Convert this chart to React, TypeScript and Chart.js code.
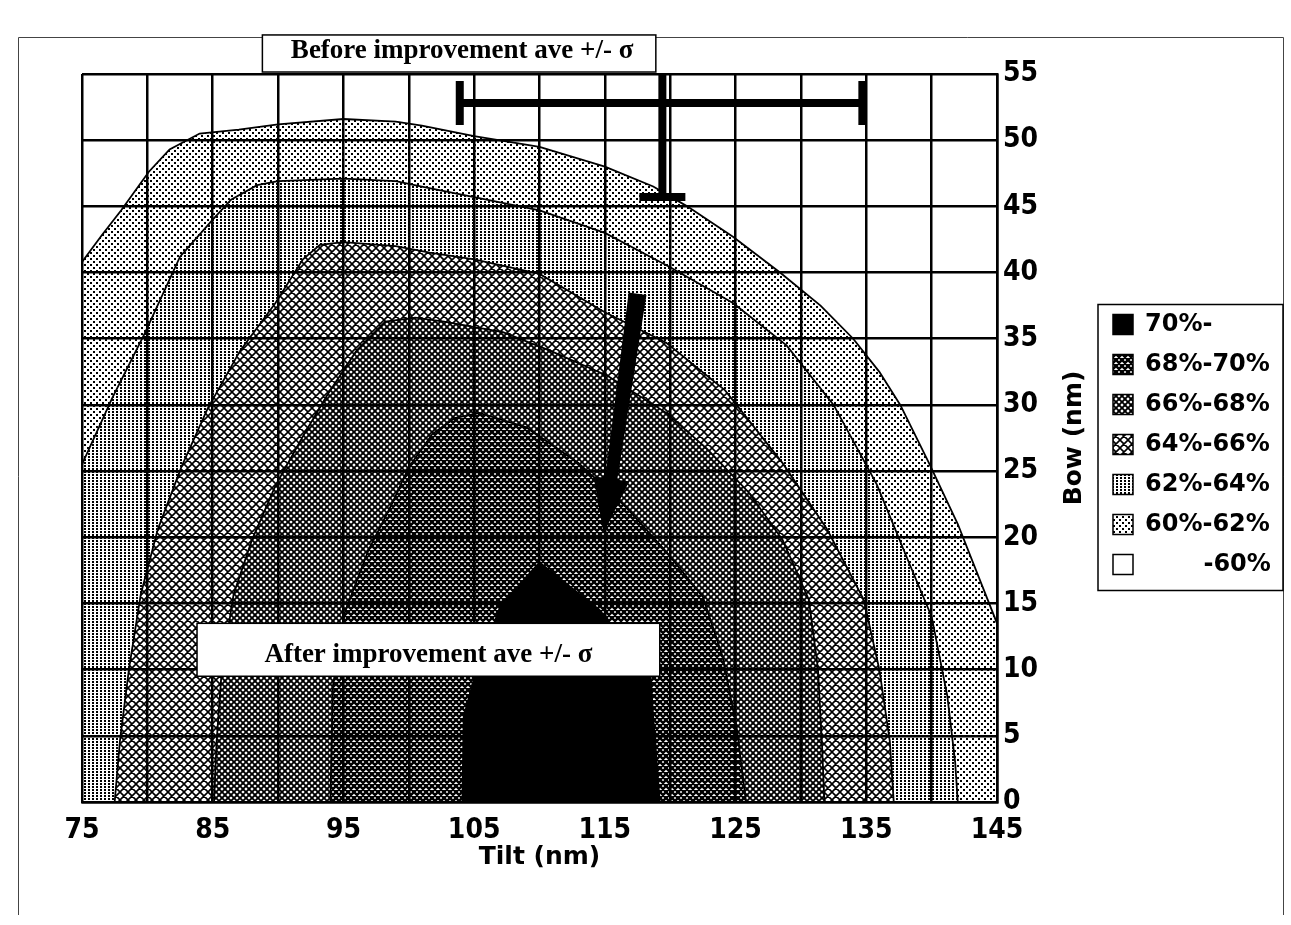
import React, { useEffect, useRef } from 'react';
import { Chart, registerables } from 'chart.js';

Chart.register(...registerables);

// ---------- data ----------
const LEVEL_LABELS = ['70%-', '68%-70%', '66%-68%', '64%-66%', '62%-64%', '60%-62%', '\u2007\u2007\u2007 -60%'];

const X_TICK_LABELS = [75, 85, 95, 105, 115, 125, 135, 145];
const Y_TICK_VALUES = [0, 5, 10, 15, 20, 25, 30, 35, 40, 45, 50, 55];

// contour boundaries (Tilt, Bow)
const TILT_70 = [104.1, 104.2, 104.9, 107, 110, 114.6, 118.5, 118.7, 119.2];
const BOW_70 = [0, 6.4, 9, 14.8, 18.1, 14.5, 9.5, 6.4, 0];

const TILT_68 = [94, 94.1, 94.2, 95.1, 96.9, 98.7, 100, 101.8, 103.5, 105.4, 109, 113, 116.6, 119.7, 122.5, 124, 125.1, 125.8];
const BOW_68 = [0, 4.5, 8.8, 14.3, 19, 22.5, 25.3, 27.8, 29, 29.4, 28.3, 25.6, 22.3, 18.9, 15.5, 11, 5.5, 0];

const TILT_66 = [85.1, 85.3, 85.7, 86.6, 88, 89.8, 92, 93.8, 96, 98.2, 100.5, 102.7, 107.2, 110.8, 115.2, 119.7, 122.8, 126, 128.6, 130.6, 131.3, 131.6, 131.8];
const BOW_66 = [0, 4.6, 10.1, 15.7, 19.8, 23.9, 27.8, 30.8, 34.1, 36.3, 36.6, 36.3, 35.5, 34.1, 32.2, 29.4, 26.7, 23.4, 19.8, 15.3, 10.1, 4.6, 0];

const TILT_64 = [77.5, 77.9, 78.6, 79.5, 80.8, 82.6, 84.6, 87.1, 89.8, 91.9, 93.2, 95, 99, 101.6, 105, 110, 115, 119.7, 124.2, 128.6, 132, 134.8, 136, 136.8, 137.1];
const BOW_64 = [0, 4.6, 10.1, 15.7, 20.6, 25.3, 29.7, 34.1, 37.7, 41, 42.1, 42.3, 42, 41.5, 41, 39.9, 37, 34.7, 31.1, 25.6, 20.6, 15.3, 10, 4.6, 0];

const TILT_62 = [75, 77.3, 79.8, 82.5, 85, 86.4, 88.4, 90, 95, 99, 101, 105, 110, 115, 120, 124.8, 128.9, 132.5, 135.8, 138.3, 140, 141.2, 141.8, 142];
const BOW_62 = [25.5, 30.5, 35.4, 41.2, 44, 45.5, 46.6, 46.9, 47.1, 46.9, 46.5, 45.7, 44.7, 43, 40.4, 37.7, 34.5, 30, 24, 18, 14, 8, 3, 0];

const TILT_60 = [75, 76.5, 78, 80.1, 81.7, 84, 87, 90, 95, 99, 101, 105, 110, 115, 118.7, 121.3, 124.8, 128.4, 131.5, 134, 136, 137.6, 139.8, 142, 143.8, 145];
const BOW_60 = [40.8, 42.8, 44.7, 47.6, 49.3, 50.5, 50.8, 51.2, 51.6, 51.4, 51.1, 50.3, 49.5, 48, 46.5, 45, 42.7, 40, 37.5, 35, 32.5, 30, 25.6, 21, 16.5, 13.5];

const TILT_BELOW = [75, 145];
const BOW_BELOW = [55, 55];

// "Before improvement" average +/- sigma  [low, mean, high]
const BEFORE_TILT = [103.9, 119.4, 134.7];
const BEFORE_BOW = [45.7, 52.8, 59.9];

// arrow from before to after (start, tip)
const ARROW_TILT = [117.5, 114.9];
const ARROW_BOW = [38.4, 20.3];

// text boxes [tilt left, tilt right, bow top, bow bottom]
const BEFORE_BOX = [88.8, 118.9, 57.95, 55.15];
const AFTER_BOX = [83.8, 119.2, 13.5, 9.5];
const BEFORE_TEXT = 'Before improvement ave +/- \u03c3';
const AFTER_TEXT = 'After improvement ave +/- \u03c3';

// ---------- styles ----------
const TICK_FONT = { family: "'DejaVu Sans Condensed', 'DejaVu Sans', sans-serif", weight: 'bold' as const, size: 28 };
const TITLE_FONT = { family: "'DejaVu Sans', sans-serif", weight: 'bold' as const, size: 25 };
const LEGEND_FONT = { family: "'DejaVu Sans', sans-serif", weight: 'bold' as const, size: 24 };
const SERIF = "bold 27px 'Liberation Serif', 'Times New Roman', serif";

function tile(w: number, h: number, draw: (g: CanvasRenderingContext2D) => void): CanvasPattern {
  const c = document.createElement('canvas');
  c.width = w;
  c.height = h;
  const g = c.getContext('2d') as CanvasRenderingContext2D;
  g.fillStyle = '#fff';
  g.fillRect(0, 0, w, h);
  g.fillStyle = '#000';
  g.strokeStyle = '#000';
  draw(g);
  return g.createPattern(c, 'repeat') as CanvasPattern;
}

function hatch(size: number, lw: number): CanvasPattern {
  return tile(size, size, (g) => {
    g.lineWidth = lw;
    g.beginPath();
    for (const o of [-size, 0, size]) {
      g.moveTo(o, 0);
      g.lineTo(o + size, size);
      g.moveTo(o + size, 0);
      g.lineTo(o, size);
    }
    g.stroke();
  });
}

function toPoints(tx: number[], by: number[]) {
  return tx.map((t, i) => ({ x: t, y: by[i] }));
}

const annotate = {
  id: 'annotate',
  beforeDraw(chart: any) {
    const { ctx, width, height } = chart;
    ctx.save();
    ctx.fillStyle = '#fff';
    ctx.fillRect(0, 0, width, height);
    ctx.strokeStyle = '#444';
    ctx.lineWidth = 1;
    ctx.beginPath();
    ctx.moveTo(18.5, 915);
    ctx.lineTo(18.5, 37.5);
    ctx.lineTo(1283.5, 37.5);
    ctx.lineTo(1283.5, 915);
    ctx.stroke();
    ctx.restore();
  },
  afterDraw(chart: any) {
    const { ctx, chartArea: ca } = chart;
    const xs = chart.scales.x;
    const ys = chart.scales.y;
    const px = (v: number) => xs.getPixelForValue(v);
    const py = (v: number) => ys.getPixelForValue(v);

    // legend frame
    const lg = chart.legend;
    if (lg && lg.legendHitBoxes && lg.legendHitBoxes.length) {
      const hb = lg.legendHitBoxes;
      const top = hb[0].top - 8;
      const bottom = hb[hb.length - 1].top + 38;
      ctx.save();
      ctx.strokeStyle = '#000';
      ctx.lineWidth = 1.5;
      ctx.strokeRect(lg.left + 1, top, lg.right - lg.left + 5, bottom - top);
      ctx.restore();
    }

    // y axis title, reading upward
    ctx.save();
    ctx.translate(ys.left + 77, (ca.top + ca.bottom) / 2);
    ctx.rotate(-Math.PI / 2);
    ctx.font = `bold ${TITLE_FONT.size}px 'DejaVu Sans', sans-serif`;
    ctx.fillStyle = '#000';
    ctx.textAlign = 'center';
    ctx.textBaseline = 'middle';
    ctx.fillText('Bow (nm)', 0, 0);
    ctx.restore();

    // before improvement error bars
    ctx.save();
    ctx.beginPath();
    ctx.rect(ca.left, ca.top, ca.right - ca.left, ca.bottom - ca.top);
    ctx.clip();
    ctx.strokeStyle = '#000';
    ctx.lineWidth = 8;
    const mx = px(BEFORE_TILT[1]);
    const my = py(BEFORE_BOW[1]);
    const x0 = px(BEFORE_TILT[0]);
    const x2 = px(BEFORE_TILT[2]);
    const y0 = py(BEFORE_BOW[0]);
    const y2 = py(BEFORE_BOW[2]);
    ctx.beginPath();
    ctx.moveTo(x0, my); ctx.lineTo(x2, my);
    ctx.moveTo(mx, y0); ctx.lineTo(mx, y2);
    ctx.moveTo(x0, my - 22); ctx.lineTo(x0, my + 22);
    ctx.moveTo(x2, my - 22); ctx.lineTo(x2, my + 22);
    ctx.moveTo(mx - 23, y0); ctx.lineTo(mx + 23, y0);
    ctx.moveTo(mx - 23, y2); ctx.lineTo(mx + 23, y2);
    ctx.stroke();

    // arrow
    const sx = px(ARROW_TILT[0]);
    const sy = py(ARROW_BOW[0]);
    const tx = px(ARROW_TILT[1]);
    const ty = py(ARROW_BOW[1]);
    const len = Math.hypot(tx - sx, ty - sy);
    const dx = (tx - sx) / len;
    const dy = (ty - sy) / len;
    const nx = -dy;
    const ny = dx;
    const headLen = 55;
    const bx = tx - dx * headLen;
    const by = ty - dy * headLen;
    ctx.fillStyle = '#000';
    ctx.beginPath();
    ctx.moveTo(sx + nx * 9, sy + ny * 9);
    ctx.lineTo(bx + nx * 6, by + ny * 6);
    ctx.lineTo(bx + nx * 18, by + ny * 18);
    ctx.lineTo(tx, ty);
    ctx.lineTo(bx - nx * 18, by - ny * 18);
    ctx.lineTo(bx - nx * 6, by - ny * 6);
    ctx.lineTo(sx - nx * 9, sy - ny * 9);
    ctx.closePath();
    ctx.fill();
    ctx.restore();

    // text boxes
    const box = (b: number[], text: string, dxText: number) => {
      const L = px(b[0]);
      const R = px(b[1]);
      const T = py(b[2]);
      const B = py(b[3]);
      ctx.save();
      ctx.fillStyle = '#fff';
      ctx.fillRect(L, T, R - L, B - T);
      ctx.strokeStyle = '#000';
      ctx.lineWidth = 1.5;
      ctx.strokeRect(L, T, R - L, B - T);
      ctx.font = SERIF;
      ctx.fillStyle = '#000';
      ctx.textAlign = 'center';
      ctx.textBaseline = 'alphabetic';
      ctx.fillText(text, (L + R) / 2 + dxText, B - 14);
      ctx.restore();
    };
    box(BEFORE_BOX, BEFORE_TEXT, 3);
    box(AFTER_BOX, AFTER_TEXT, 0);
  },
};

export default function App() {
  const ref = useRef<HTMLCanvasElement>(null);

  useEffect(() => {
    const canvas = ref.current as HTMLCanvasElement;
    const fills = [
      '#000',
      hatch(6, 2.5),
      hatch(6, 1.9),
      hatch(8, 1.6),
      tile(4, 3, (g) => g.fillRect(0, 0, 2, 2)),
      tile(6, 6, (g) => { g.fillRect(0, 0, 2, 2); g.fillRect(3, 3, 2, 2); }),
      '#fff',
    ];
    const series = [
      [TILT_70, BOW_70],
      [TILT_68, BOW_68],
      [TILT_66, BOW_66],
      [TILT_64, BOW_64],
      [TILT_62, BOW_62],
      [TILT_60, BOW_60],
      [TILT_BELOW, BOW_BELOW],
    ];
    const datasets = series.map(([t, b], i) => ({
      label: LEVEL_LABELS[i],
      data: toPoints(t, b),
      showLine: true,
      fill: 'origin',
      backgroundColor: fills[i],
      borderColor: '#000',
      borderWidth: i === 6 ? 0 : 1.8,
      pointRadius: 0,
      tension: 0,
    }));

    const chart = new Chart(canvas, {
      type: 'scatter',
      data: { datasets } as any,
      plugins: [annotate],
      options: {
        responsive: true,
        maintainAspectRatio: false,
        animation: false,
        events: [],
        layout: { padding: { left: 82, top: 74, right: 14, bottom: 53 } },
        plugins: {
          tooltip: { enabled: false },
          legend: {
            position: 'right',
            fullSize: false,
            maxWidth: 180,
            title: { display: true, text: ' ', font: { size: 10 }, padding: { top: 0, bottom: 1 } },
            labels: {
              boxWidth: 20,
              boxHeight: 20,
              padding: 16,
              color: '#000',
              font: LEGEND_FONT,
              generateLabels: (ch: any) =>
                ch.data.datasets.map((ds: any, i: number) => ({
                  text: ds.label,
                  fillStyle: ds.backgroundColor,
                  strokeStyle: '#000',
                  lineWidth: 1.5,
                  hidden: false,
                  datasetIndex: i,
                  fontColor: '#000',
                })),
            },
          },
        },
        scales: {
          x: {
            type: 'linear',
            min: 75,
            max: 145,
            grid: { color: '#000', lineWidth: 2.5, drawTicks: false, z: 1 },
            border: { display: true, color: '#000', width: 2.5, z: 1 },
            ticks: {
              stepSize: 5,
              autoSkip: false,
              maxRotation: 0,
              padding: 12,
              color: '#000',
              font: TICK_FONT,
              callback: (v: any) => (X_TICK_LABELS.includes(Math.round(Number(v))) ? String(Math.round(Number(v))) : ''),
            },
            title: { display: true, text: 'Tilt (nm)', color: '#000', font: TITLE_FONT, padding: { top: 0, bottom: 0 } },
            afterFit: (s: any) => { s.height = 70; },
          },
          y: {
            type: 'linear',
            position: 'right',
            min: 0,
            max: 55,
            grid: { color: '#000', lineWidth: 2.5, drawTicks: false, z: 1 },
            border: { display: true, color: '#000', width: 2.5, z: 1 },
            ticks: {
              stepSize: 5,
              autoSkip: false,
              padding: 6,
              color: '#000',
              font: TICK_FONT,
              callback: (v: any) => (Y_TICK_VALUES.includes(Math.round(Number(v))) ? String(Math.round(Number(v))) : ''),
            },
            afterFit: (s: any) => { s.width = 100; },
          },
        },
      } as any,
    });
    return () => chart.destroy();
  }, []);

  return (
    <div style={{ position: 'fixed', left: 0, top: 0, width: 1291, height: 925, background: '#fff' }}>
      <canvas ref={ref} />
    </div>
  );
}
